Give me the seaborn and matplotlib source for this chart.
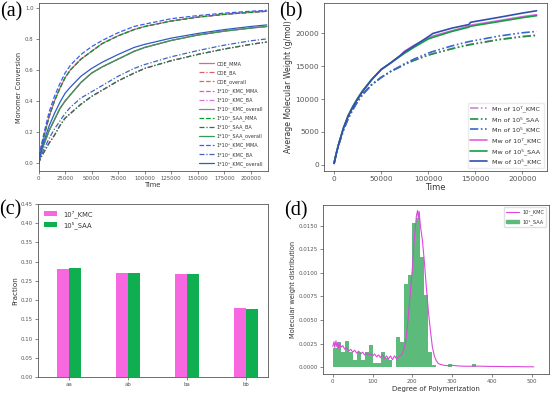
import numpy as np
import pandas as pd
import seaborn as sns
import matplotlib
matplotlib.use('Agg')
import matplotlib.pyplot as plt
from matplotlib.patches import Patch
from matplotlib.lines import Line2D

# ---- (a) monomer conversion ----
time_a = [0, 2500, 5000, 10000, 15000, 20000, 25000, 30000, 40000, 50000, 60000, 75000,
          90000, 100000, 125000, 150000, 175000, 200000, 215000]
mma_base = [0, 0.10, 0.17, 0.30, 0.40, 0.48, 0.55, 0.60, 0.67, 0.72, 0.77, 0.82,
            0.86, 0.88, 0.915, 0.94, 0.958, 0.971, 0.978]
ba_base = [0, 0.04, 0.07, 0.13, 0.18, 0.24, 0.29, 0.32, 0.38, 0.43, 0.47, 0.53,
           0.58, 0.61, 0.66, 0.70, 0.735, 0.765, 0.78]
ovr_base = [0, 0.07, 0.12, 0.21, 0.28, 0.35, 0.40, 0.44, 0.52, 0.58, 0.62, 0.67,
            0.72, 0.745, 0.79, 0.825, 0.85, 0.87, 0.88]
mma_k5 = [0, 0.11, 0.19, 0.33, 0.43, 0.51, 0.58, 0.63, 0.70, 0.75, 0.79, 0.84,
          0.88, 0.895, 0.93, 0.95, 0.966, 0.978, 0.984]
ba_k5 = [0, 0.05, 0.09, 0.16, 0.22, 0.27, 0.32, 0.36, 0.42, 0.46, 0.50, 0.56,
         0.61, 0.635, 0.685, 0.725, 0.76, 0.788, 0.80]
ovr_k5 = [0, 0.08, 0.14, 0.24, 0.32, 0.39, 0.45, 0.49, 0.56, 0.61, 0.65, 0.70,
          0.745, 0.765, 0.805, 0.835, 0.86, 0.88, 0.89]

# ---- (b) average molecular weight ----
time_b = [0, 2500, 5000, 10000, 15000, 20000, 25000, 30000, 40000, 50000, 60000, 70000,
          75000, 85000, 100000, 105000, 125000, 143000, 145000, 175000, 200000, 215000]
mw_k7 = [200, 1800, 3200, 5600, 7500, 8900, 10100, 11200, 13000, 14500, 15500, 16600,
         17300, 18200, 19300, 19600, 20400, 21100, 21250, 21950, 22550, 22850]
mw_s5 = [200, 1800, 3200, 5600, 7500, 8900, 10100, 11200, 13000, 14500, 15500, 16500,
         17000, 17900, 19150, 19400, 20300, 20950, 21100, 21800, 22400, 22700]
mw_k5 = [200, 1800, 3200, 5600, 7400, 8800, 10000, 11100, 12950, 14500, 15500, 16600,
         17200, 18100, 19500, 20000, 20800, 21350, 21700, 22450, 23100, 23450]
mn_k7 = [200, 1800, 3100, 5300, 7100, 8500, 9700, 10700, 12200, 13300, 14200, 14900,
         15300, 15900, 16700, 16900, 17700, 18300, 18350, 19100, 19550, 19750]
mn_s5 = [200, 1800, 3100, 5300, 7100, 8500, 9700, 10700, 12200, 13300, 14200, 14900,
         15300, 15900, 16700, 16900, 17650, 18250, 18300, 19050, 19500, 19700]
mn_k5 = [200, 1800, 3100, 5300, 7000, 8400, 9600, 10600, 12200, 13300, 14200, 15000,
         15400, 16100, 17000, 17250, 18100, 18750, 18800, 19600, 20100, 20300]

# ---- (c) dyad fractions ----
dyads = ['aa', 'ab', 'ba', 'bb']
frac_k7 = [0.282, 0.270, 0.268, 0.180]
frac_s5 = [0.283, 0.270, 0.268, 0.178]

# ---- (d) molecular weight distribution ----
dp_line = [0, 3, 5, 8, 10, 13, 15, 18, 20, 25, 30, 35, 40, 45, 50, 55, 60, 65, 70, 75,
           80, 85, 90, 95, 100, 105, 110, 115, 120, 125, 130, 135, 140, 145, 150, 155,
           160, 165, 170, 175, 180, 185, 190, 195, 200, 205, 208, 210, 213, 215, 217,
           220, 225, 230, 235, 240, 245, 250, 255, 260, 265, 270, 280, 290, 300, 320,
           340, 360, 380, 400, 420, 440, 460, 480, 505]
mwd_k7 = [0.0022, 0.0027, 0.0021, 0.0028, 0.0022, 0.0026, 0.0020, 0.0025, 0.0021,
          0.0023, 0.0019, 0.0021, 0.0017, 0.0019, 0.0016, 0.0018, 0.0015, 0.0017,
          0.0014, 0.0016, 0.0013, 0.0015, 0.0013, 0.0014, 0.0012, 0.0014, 0.0011,
          0.0013, 0.0010, 0.0013, 0.0009, 0.0012, 0.0009, 0.0012, 0.0008, 0.0012,
          0.0009, 0.0011, 0.0012, 0.0015, 0.0021, 0.0033, 0.0055, 0.0080, 0.0105,
          0.0138, 0.0150, 0.0160, 0.0166, 0.0158, 0.0165, 0.0150, 0.0135, 0.0112,
          0.0085, 0.0060, 0.0040, 0.0022, 0.0012, 0.0007, 0.0004, 0.0003, 0.0002,
          0.00015, 0.0002, 0.00012, 0.0001, 0.00012, 0.0001, 0.00008, 0.00008,
          0.00006, 0.00007, 0.00005, 0.00004]
dp_bins = [5, 15, 25, 35, 45, 55, 65, 75, 85, 95, 105, 115, 125, 135, 145, 155,
           165, 175, 185, 195, 205, 215, 225, 235, 245, 255, 265, 275, 285, 295,
           305, 315, 325, 335, 345, 355]
mwd_s5 = [0.0020, 0.0027, 0.0016, 0.0028, 0.0016, 0.0008, 0.0016, 0.0008, 0.0016,
          0.0024, 0.0004, 0.0004, 0.0016, 0.0010, 0.0008, 0.0, 0.0032, 0.0027,
          0.0088, 0.0098, 0.0153, 0.0158, 0.0117, 0.0076, 0.0016, 0.0002, 0.0,
          0.0, 0.0, 0.0003, 0.0, 0.0, 0.0, 0.0, 0.0, 0.0003]

sns.set_style('ticks')
plt.rcParams['font.family'] = ['DejaVu Sans']
plt.rcParams['axes.edgecolor'] = '#555555'
plt.rcParams['axes.linewidth'] = 0.6
plt.rcParams['xtick.color'] = '#555555'
plt.rcParams['ytick.color'] = '#555555'
plt.rcParams['xtick.major.width'] = 0.5
plt.rcParams['ytick.major.width'] = 0.5
plt.rcParams['xtick.major.size'] = 2
plt.rcParams['ytick.major.size'] = 2
plt.rcParams['xtick.major.pad'] = 1.5
plt.rcParams['ytick.major.pad'] = 1.5
plt.rcParams['text.color'] = '#333333'
plt.rcParams['axes.labelcolor'] = '#333333'

fig = plt.figure(figsize=(5.5, 3.95), dpi=100)
ax_a = fig.add_axes([0.070, 0.567, 0.417, 0.425])
ax_b = fig.add_axes([0.589, 0.567, 0.405, 0.425])
ax_c = fig.add_axes([0.0685, 0.0456, 0.418, 0.438])
ax_d = fig.add_axes([0.587, 0.0524, 0.411, 0.429])

# (a)
dd = (0, (4, 1.5, 1, 1.5))
series_a = [
    (mma_base, '#c07a70', '-', 'ODE_MMA'),
    (ba_base, '#d9606a', dd, 'ODE_BA'),
    (ovr_base, '#e06a45', '--', 'ODE_overall'),
    (mma_base, '#ff3cf0', '--', '1*10⁷_KMC_MMA'),
    (ba_base, '#e070e0', dd, '1*10⁷_KMC_BA'),
    (ovr_base, '#a070b0', '-', '1*10⁷_KMC_overall'),
    (mma_base, '#00a020', '--', '1*10⁵_SAA_MMA'),
    (ba_base, '#207a40', dd, '1*10⁵_SAA_BA'),
    (ovr_base, '#3a9a55', '-', '1*10⁵_SAA_overall'),
    (mma_k5, '#3d5cf0', '--', '1*10⁵_KMC_MMA'),
    (ba_k5, '#4064c0', dd, '1*10⁵_KMC_BA'),
    (ovr_k5, '#2f5bc8', '-', '1*10⁵_KMC_overall'),
]
for vals, col, ls, lab in series_a:
    sns.lineplot(x=time_a, y=vals, ax=ax_a, color=col, linestyle=ls, lw=0.9, label=lab)
ax_a.set_xlim(0, 216000)
ax_a.set_ylim(-0.05, 1.03)
ax_a.set_xticks(np.arange(0, 200001, 25000))
ax_a.set_yticks(np.arange(0, 1.01, 0.2))
ax_a.set_yticklabels(['0.0', '0.2', '0.4', '0.6', '0.8', '1.0'])
ax_a.tick_params(labelsize=3.9)
ax_a.set_xlabel('Time', fontsize=4.8, labelpad=1)
ax_a.set_ylabel('Monomer Conversion', fontsize=4.8, labelpad=2)
ax_a.legend(loc='lower right', fontsize=3.5, handlelength=3, labelspacing=0.7,
            frameon=False, borderaxespad=0.5, handletextpad=0.6)

# (b)
ddd = (0, (5, 1.5, 1, 1.5, 1, 1.5))
series_b = [
    (mn_k7, '#d088d0', ddd, 'Mn of 10⁷_KMC'),
    (mn_s5, '#1f9040', ddd, 'Mn of 10⁵_SAA'),
    (mn_k5, '#3a66d0', ddd, 'Mn of 10⁵_KMC'),
    (mw_k7, '#e060e0', '-', 'Mw of 10⁷_KMC'),
    (mw_s5, '#12a040', '-', 'Mw of 10⁵_SAA'),
    (mw_k5, '#3050b0', '-', 'Mw of 10⁵_KMC'),
]
for vals, col, ls, lab in series_b:
    sns.lineplot(x=time_b, y=vals, ax=ax_b, color=col, linestyle=ls, lw=1.2, label=lab)
ax_b.set_xlim(-10750, 225750)
ax_b.set_ylim(-960, 24610)
ax_b.set_xticks([0, 50000, 100000, 150000, 200000])
ax_b.set_yticks([0, 5000, 10000, 15000, 20000])
ax_b.tick_params(labelsize=5.3)
ax_b.set_xlabel('Time', fontsize=6, labelpad=1)
ax_b.set_ylabel('Average Molecular Weight (g/mol)', fontsize=5.6, labelpad=2)
ax_b.legend(loc='lower right', fontsize=4.6, handlelength=2.6, labelspacing=0.62,
            frameon=True, edgecolor='0.9', fancybox=True, borderaxespad=0.5)

# (c)
df_c = pd.DataFrame({
    'dyad': dyads * 2,
    'fraction': frac_k7 + frac_s5,
    'model': ['10⁷_KMC'] * 4 + ['10⁵_SAA'] * 4,
})
sns.barplot(data=df_c, x='dyad', y='fraction', hue='model', ax=ax_c, width=0.4,
            palette=['#f768e0', '#0fae50'], linewidth=0, saturation=1)
ax_c.set_xlim(-0.53, 3.36)
ax_c.set_ylim(0, 0.45)
ax_c.set_yticks(np.arange(0, 0.451, 0.05))
ax_c.set_yticklabels([f'{v:.2f}' for v in np.arange(0, 0.451, 0.05)])
ax_c.tick_params(labelsize=3.9)
ax_c.set_xlabel('')
ax_c.set_ylabel('Fraction', fontsize=5.2, labelpad=2)
ax_c.legend(loc='upper left', fontsize=4.9, frameon=False, handlelength=2,
            labelspacing=0.5, borderaxespad=0.5)

# (d)
df_d = pd.DataFrame({'dp': dp_bins, 'w': mwd_s5})
sns.histplot(data=df_d, x='dp', weights='w', binwidth=10, binrange=(0, 360), ax=ax_d,
             color='#5cbb7b', alpha=1, linewidth=0)
sns.lineplot(x=dp_line, y=mwd_k7, ax=ax_d, color='#dc48dc', lw=0.8)
ax_d.set_xlim(-25, 543)
ax_d.set_ylim(-0.00075, 0.0172)
ax_d.set_xticks([0, 100, 200, 300, 400, 500])
ax_d.set_yticks(np.arange(0, 0.0151, 0.0025))
ax_d.set_yticklabels([f'{v:.4f}' for v in np.arange(0, 0.0151, 0.0025)])
ax_d.tick_params(labelsize=4)
ax_d.set_xlabel('Degree of Polymerization', fontsize=5, labelpad=1)
ax_d.set_ylabel('Molecular weight distribution', fontsize=4.8, labelpad=2)
hd = [Line2D([0], [0], color='#dc48dc', lw=0.8), Patch(color='#5cbb7b')]
ax_d.legend(hd, ['10⁷_KMC', '10⁵_SAA'], loc='upper right', fontsize=3.6,
            frameon=True, edgecolor='0.85', handlelength=2.5, labelspacing=0.8)

for ax in [ax_a, ax_b, ax_c, ax_d]:
    for s in ax.spines.values():
        s.set_visible(True)

for lab, x, y in [('(a)', 0.0, 0.97), ('(b)', 0.507, 0.97), ('(c)', -0.002, 0.468), ('(d)', 0.516, 0.466)]:
    fig.text(x, y, lab, fontsize=14.5, family='Liberation Serif', va='center', ha='left', color='black')

fig.savefig('out.png', dpi=100)
